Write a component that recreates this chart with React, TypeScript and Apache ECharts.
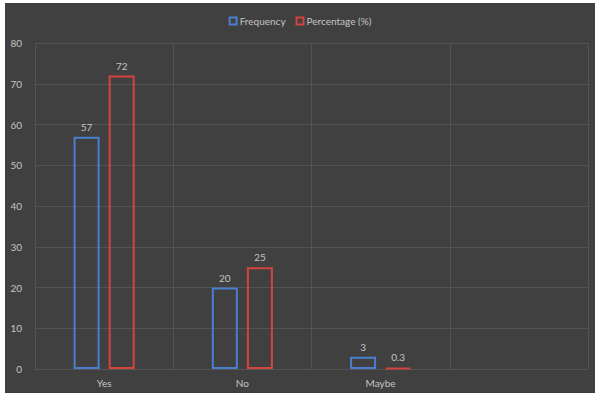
import React, { useEffect, useRef } from "react";
import * as echarts from "echarts";

const categories = ["Yes", "No", "Maybe", ""];
const frequency = [57, 20, 3, null];
const percentage = [72, 25, 0.3, null];
const yTicks = { min: 0, max: 80, interval: 10 };

const TEXT = "#c4c4c4";
const FONT = "Lato, 'Open Sans', sans-serif";

export default function App() {
  const ref = useRef<HTMLDivElement>(null);

  useEffect(() => {
    if (!ref.current) return;
    const chart = echarts.init(ref.current, undefined, { renderer: "svg" });
    const label = {
      show: true,
      position: "top" as const,
      distance: 5,
      color: TEXT,
      fontSize: 10,
      fontFamily: FONT,
    };
    chart.setOption({
      animation: false,
      backgroundColor: "#404040",
      textStyle: { fontFamily: FONT, color: TEXT },
      legend: {
        top: 8,
        left: "center",
        itemWidth: 7,
        itemHeight: 7,
        itemGap: 10,
        icon: "rect",
        textStyle: { color: TEXT, fontSize: 10, fontFamily: FONT, padding: [0, 0, 0, -2] },
        data: ["Frequency", "Percentage (%)"],
      },
      grid: { left: 30, right: 7, top: 40, bottom: 24 },
      xAxis: {
        type: "category",
        data: categories,
        axisLine: { show: false },
        axisTick: { show: false },
        axisLabel: { color: TEXT, fontSize: 10, margin: 9, fontFamily: FONT },
        splitLine: { show: true, lineStyle: { color: "#535353", width: 1 } },
      },
      yAxis: {
        type: "value",
        min: yTicks.min,
        max: yTicks.max,
        interval: yTicks.interval,
        axisLine: { show: false },
        axisTick: { show: false },
        axisLabel: { color: TEXT, fontSize: 10, margin: 13, fontFamily: FONT },
        splitLine: { lineStyle: { color: "#535353", width: 1 } },
      },
      series: [
        {
          name: "Frequency",
          type: "bar",
          data: frequency,
          barWidth: 26,
          barGap: "35%",
          itemStyle: { color: "rgba(0,0,0,0)", borderColor: "#4a7fcf", borderWidth: 2 },
          label,
        },
        {
          name: "Percentage (%)",
          type: "bar",
          data: percentage,
          barWidth: 26,
          barGap: "35%",
          itemStyle: { color: "rgba(0,0,0,0)", borderColor: "#d4433d", borderWidth: 2 },
          label,
        },
      ],
    });
    return () => chart.dispose();
  }, []);

  return (
    <div
      style={{
        position: "fixed",
        left: 0,
        top: 0,
        width: 595,
        height: 393,
        background: "#ffffff",
      }}
    >
      <div
        ref={ref}
        style={{ position: "absolute", left: 5, top: 3, width: 590, height: 390 }}
      />
    </div>
  );
}
